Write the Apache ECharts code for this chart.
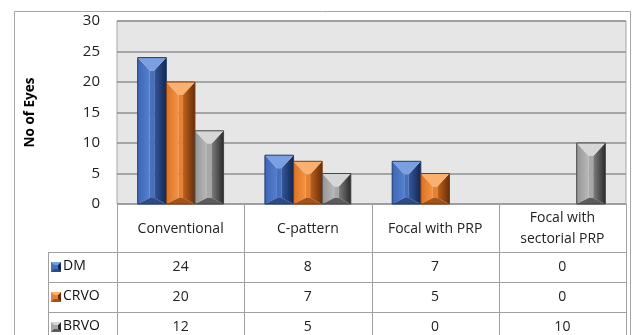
<!DOCTYPE html>
<html>
<head>
<meta charset="utf-8">
<script src="https://cdn.jsdelivr.net/npm/echarts@6/dist/echarts.min.js"></script>
<style>
  html, body { margin: 0; padding: 0; background: #fff; }
  #main { width: 635px; height: 335px; }
</style>
</head>
<body>
<div id="main"></div>
<script>
// data
const categories = ['Conventional', 'C-pattern', 'Focal with PRP', 'Focal with\nsectorial PRP']
const seriesNames = ['DM', 'CRVO', 'BRVO']
const dmValues = [24, 8, 7, 0]
const crvoValues = [20, 7, 5, 0]
const brvoValues = [12, 5, 0, 10]
const yTicks = [0, 5, 10, 15, 20, 25, 30]

const allValues = [dmValues, crvoValues, brvoValues]

// bevel colours per series
const palettes = [
  { top: '#7aa0e2', lo: '#3d65b3', li: '#5580cf', face: '#4470bd', ri: '#34589c', ro: '#132650', bottom: '#2c4b88', stroke: '#1f3a70' },
  { top: '#fbb070', lo: '#dc7224', li: '#f29443', face: '#e88030', ri: '#c2621c', ro: '#662e0a', bottom: '#a4521a', stroke: '#7a3a0e' },
  { top: '#d6d6d6', lo: '#959595', li: '#b8b8b8', face: '#a8a8a8', ri: '#7e7e7e', ro: '#2a2a2a', bottom: '#5c5c5c', stroke: '#444444' }
]

const FONT = 'Open Sans'
const gridLeft = 117, gridRight = 9, gridTop = 21, gridBottom = 131
const H = 335, W = 635
const plotBottom = H - gridBottom
const rowTops = [252, 282, 312]
const rowH = 30
const legendLeft = 48

const hGrad = (a, b) => new echarts.graphic.LinearGradient(0, 0, 1, 0, [{ offset: 0, color: a }, { offset: 1, color: b }])

function bevelRender(idx) {
  const pal = palettes[idx]
  return function (params, api) {
    const cat = api.value(0)
    const v = api.value(1)
    if (!v) return null
    const base = api.coord([cat, 0])
    const top = api.coord([cat, v])
    const band = api.size([1, 0])[0]
    const bw = band * 0.225
    const x0 = base[0] - 1.5 * bw + idx * bw
    const x1 = x0 + bw
    const y0 = top[1], y1 = base[1]
    const h = y1 - y0
    const dx = bw * 0.42
    const dyT = Math.min(13, h * 0.45)
    const dyB = Math.min(6, h * 0.3)
    const ix0 = x0 + dx, ix1 = x1 - dx, iy0 = y0 + dyT, iy1 = y1 - dyB
    const poly = (pts, fill) => ({ type: 'polygon', shape: { points: pts }, style: { fill: fill, stroke: null } })
    return {
      type: 'group',
      children: [
        poly([[ix0, iy0], [ix1, iy0], [ix1, iy1], [ix0, iy1]], pal.face),
        poly([[x0, y0], [ix0, iy0], [ix0, iy1], [x0, y1]], hGrad(pal.lo, pal.li)),
        poly([[x1, y0], [ix1, iy0], [ix1, iy1], [x1, y1]], hGrad(pal.ri, pal.ro)),
        poly([[x0, y0], [x1, y0], [ix1, iy0], [ix0, iy0]], pal.top),
        poly([[x0, y1], [x1, y1], [ix1, iy1], [ix0, iy1]], pal.bottom),
        { type: 'rect', shape: { x: x0, y: y0, width: bw, height: h }, style: { fill: null, stroke: pal.stroke, lineWidth: 1 } }
      ]
    }
  }
}

const series = seriesNames.map((name, i) => ({
  name: name,
  type: 'custom',
  renderItem: bevelRender(i),
  encode: { x: 0, y: 1 },
  data: allValues[i].map((v, c) => [c, v]),
  z: 3
}))

const chart = echarts.init(document.getElementById('main'), null, { renderer: 'canvas' })

chart.setOption({
  animation: false,
  backgroundColor: '#ffffff',
  grid: {
    left: gridLeft, right: gridRight, top: gridTop, bottom: gridBottom,
    show: true, backgroundColor: '#e6e6e6', borderColor: '#a6a6a6', borderWidth: 1
  },
  xAxis: {
    type: 'category',
    data: categories,
    axisLine: { show: false },
    axisTick: { show: false },
    axisLabel: { show: false }
  },
  yAxis: {
    type: 'value',
    min: yTicks[0],
    max: yTicks[yTicks.length - 1],
    interval: yTicks[1] - yTicks[0],
    name: 'No of Eyes',
    nameLocation: 'middle',
    nameGap: 80,
    nameTextStyle: { fontFamily: FONT, fontWeight: 'bold', fontSize: 13.5, color: '#000' },
    axisLine: { show: false },
    axisTick: { show: false },
    axisLabel: { margin: 17, fontFamily: FONT, fontSize: 15, color: '#222' },
    splitLine: { lineStyle: { color: '#8f8f8f', width: 1.5 } }
  },
  series: series
})

// data table underneath the plot
const lineStyle = { stroke: '#a0a0a0', lineWidth: 1 }
const g = []
const hLine = (xa, xb, y) => g.push({ type: 'line', shape: { x1: xa, y1: y, x2: xb, y2: y }, style: lineStyle, silent: true })
const vLine = (x, ya, yb) => g.push({ type: 'line', shape: { x1: x, y1: ya, x2: x, y2: yb }, style: lineStyle, silent: true })

// outer chart border
g.push({ type: 'rect', shape: { x: 14.5, y: 11.5, width: 616, height: 340 }, style: { fill: null, stroke: '#a6a6a6', lineWidth: 1 }, silent: true })

const right = W - gridRight
hLine(gridLeft, right, plotBottom + 0.5)
rowTops.forEach(y => hLine(legendLeft, right, y + 0.5))
vLine(legendLeft + 0.5, rowTops[0], H + 5)

for (let c = 0; c <= categories.length; c++) {
  const x = c < categories.length
    ? chart.convertToPixel({ xAxisIndex: 0 }, c) - (right - gridLeft) / categories.length / 2
    : right
  vLine(Math.round(x) + 0.5, plotBottom, H + 5)
}

categories.forEach((name, c) => {
  const cx = chart.convertToPixel({ xAxisIndex: 0 }, c)
  g.push({
    type: 'text', x: cx, y: (plotBottom + rowTops[0]) / 2 + 1,
    style: { text: name, fontFamily: FONT, fontSize: 14, fill: '#222', align: 'center', verticalAlign: 'middle', lineHeight: 21 },
    silent: true
  })
  allValues.forEach((vals, r) => {
    g.push({
      type: 'text', x: cx, y: rowTops[r] + rowH / 2,
      style: { text: String(vals[c]), fontFamily: FONT, fontSize: 14, fill: '#222', align: 'center', verticalAlign: 'middle' },
      silent: true
    })
  })
})

// legend keys inside the table
seriesNames.forEach((name, r) => {
  const pal = palettes[r]
  const x0 = legendLeft + 3, y0 = rowTops[r] + 10, s = 10
  const m = 3
  g.push({ type: 'rect', shape: { x: x0, y: y0, width: s, height: s }, style: { fill: pal.face }, silent: true })
  g.push({ type: 'polygon', shape: { points: [[x0 + s, y0], [x0 + s - m, y0 + m], [x0 + s - m, y0 + s - m], [x0 + s, y0 + s]] }, style: { fill: pal.ro }, silent: true })
  g.push({ type: 'polygon', shape: { points: [[x0, y0], [x0 + s, y0], [x0 + s - m, y0 + m], [x0 + m, y0 + m]] }, style: { fill: pal.top }, silent: true })
  g.push({ type: 'polygon', shape: { points: [[x0, y0 + s], [x0 + s, y0 + s], [x0 + s - m, y0 + s - m], [x0 + m, y0 + s - m]] }, style: { fill: pal.bottom }, silent: true })
  g.push({
    type: 'text', x: x0 + s + 2, y: rowTops[r] + rowH / 2 - 1,
    style: { text: name, fontFamily: FONT, fontSize: 14, fill: '#111', align: 'left', verticalAlign: 'middle' },
    silent: true
  })
})

chart.setOption({ graphic: { elements: g } })
</script>
</body>
</html>
